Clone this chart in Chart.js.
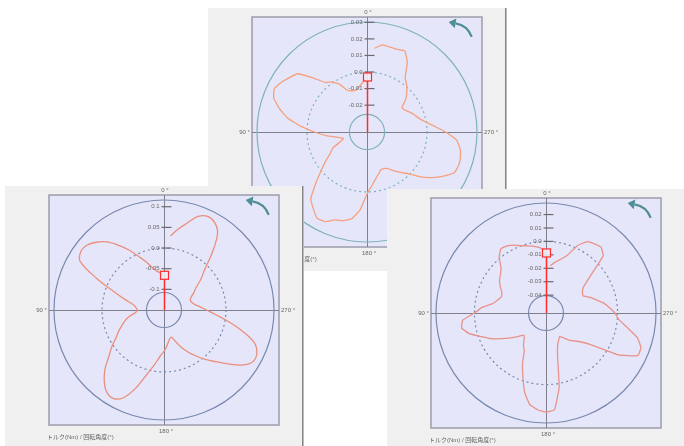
<!DOCTYPE html>
<html>
<head>
<meta charset="utf-8">
<script src="https://cdn.jsdelivr.net/npm/chart.js@4.4.1/dist/chart.umd.min.js"></script>
<style>
  html, body { margin: 0; padding: 0; background: #fff; width: 684px; height: 446px; overflow: hidden; }
  canvas { position: absolute; }
  #topChart { left: 208px; top: 8px; }
  #leftChart { left: 5px; top: 186px; }
  #rightChart { left: 387px; top: 189px; }
</style>
</head>
<body>
<canvas id="topChart" width="300" height="263"></canvas>
<canvas id="leftChart" width="300" height="260"></canvas>
<canvas id="rightChart" width="300" height="257"></canvas>
<script>
'use strict';
// rotation angle (deg, counter-clockwise from top)
const angles = [0, 5, 10, 15, 20, 25, 30, 35, 40, 45, 50, 55, 60, 65, 70, 75, 80, 85,
  90, 95, 100, 105, 110, 115, 120, 125, 130, 135, 140, 145, 150, 155, 160, 165, 170, 175,
  180, 185, 190, 195, 200, 205, 210, 215, 220, 225, 230, 235, 240, 245, 250, 255, 260, 265,
  270, 275, 280, 285, 290, 295, 300, 305, 310, 315, 320, 325, 330, 335, 340, 345, 350, 355];

// torque (Nm) per angle
const topTorque = [-0.003, -0.0062, -0.0085, -0.0100, -0.0097, -0.0084, -0.0028, 0.0007, 0.0028, 0.0100,
  0.0185, 0.0210, 0.0236, 0.0256, 0.0237, 0.0185, 0.0125, 0.0040, -0.0045, -0.0115,
  -0.0180, -0.0215, -0.0190, -0.0135, -0.0107, -0.0058, -0.0002, 0.0075, 0.0165, 0.0203,
  0.0240, 0.0235, 0.0203, 0.0192, 0.0170, 0.0110, 0.0012, -0.0035, -0.0072, -0.0098,
  -0.0118, -0.0118, -0.0106, -0.0075, -0.0043, -0.0005, 0.0060, 0.0118, 0.0172, 0.0220,
  0.0227, 0.0222, 0.0208, 0.0180, 0.0113, 0.0045, -0.0005, -0.0038, -0.0058, -0.0078,
  -0.0097, -0.0105, -0.0058, -0.0022, 0.0010, 0.0040, 0.0125, 0.0178, 0.0169, 0.0169,
  0.0172, 0.0145];

const leftTorque = [-0.066, -0.060, -0.055, -0.045, -0.027, -0.008, 0.017, 0.041, 0.065, 0.082,
  0.094, 0.096, 0.084, 0.028, -0.022, -0.053, -0.074, -0.082, -0.085, -0.081,
  -0.066, -0.053, -0.042, -0.029, -0.016, 0.004, 0.024, 0.052, 0.075, 0.092,
  0.097, 0.085, 0.052, 0.012, -0.015, -0.037, -0.050, -0.064, -0.077, -0.082,
  -0.069, -0.050, -0.032, -0.014, 0.006, 0.027, 0.053, 0.082, 0.099, 0.098,
  0.083, 0.046, 0.007, -0.025, -0.047, -0.062, -0.074, -0.080, -0.082, -0.078,
  -0.067, -0.055, -0.033, -0.010, 0.032, 0.076, 0.095, 0.100, 0.091, 0.068,
  0.049, 0.030];

const rightTorque = [-0.0086, -0.0046, -0.0029, -0.0015, 0.0000, 0.0025, 0.0045, 0.0052, 0.0010, -0.0060,
  -0.0090, -0.0110, -0.0140, -0.0170, -0.0180, -0.0160, -0.0130, -0.0055, 0.0000, 0.0090,
  0.0105, 0.0060, -0.0020, -0.0080, -0.0150, -0.0210, -0.0260, -0.0300, -0.0280, -0.0240,
  -0.0210, -0.0120, -0.0030, 0.0080, 0.0160, 0.0190, 0.0205, 0.0190, 0.0030, -0.0200,
  -0.0280, -0.0310, -0.0330, -0.0310, -0.0270, -0.0240, -0.0200, -0.0120, 0.0090, 0.0220,
  0.0220, 0.0170, 0.0080, 0.0010, -0.0020, -0.0060, -0.0100, -0.0150, -0.0190, -0.0230,
  -0.0220, -0.0190, -0.0100, 0.0070, 0.0105, 0.0095, 0.0080, 0.0020, -0.0080, -0.0120,
  -0.0150, -0.0180];

// radial range: [center, inner circle, outer circle]
const topRange = [-0.0362, -0.0256, 0.0302];
const leftRange = [-0.150, -0.1076, 0.1163];
const rightRange = [-0.0533, -0.0403, 0.0286];

const topTicks = [0.03, 0.02, 0.01, 0.0, -0.01, -0.02];
const topTickLabels = ['0.03', '0.02', '0.01', '0.0', '-0.01', '-0.02'];
const leftTicks = [0.1, 0.05, 0.0, -0.05, -0.1];
const leftTickLabels = ['0.1', '0.05', '0.0', '-0.05', '-0.1'];
const rightTicks = [0.02, 0.01, 0.0, -0.01, -0.02, -0.03, -0.04];
const rightTickLabels = ['0.02', '0.01', '0.0', '-0.01', '-0.02', '-0.03', '-0.04'];

const degreeLabels = ['0 °', '90 °', '180 °', '270 °'];
const caption = 'トルク(Nm) / 回転角度(°)';

const FONT = '6px "Liberation Sans", "Noto Sans CJK JP", sans-serif';

const polarFrame = {
  id: 'polarFrame',
  afterDatasetUpdate(chart, args) {
    // the trace is open between 355 and 0 degrees
    const line = args.meta.dataset;
    line._fullLoop = false;
    delete line._segments;
    delete line._path;
  },
  beforeDraw(chart, args, opts) {
    const ctx = chart.ctx;
    const r = chart.scales.r;
    const cx = r.xCenter;
    const cy = r.yCenter;
    const half = 115;
    ctx.save();
    ctx.fillStyle = '#f0f0f0';
    ctx.fillRect(0, 0, 299, chart.height);
    ctx.fillStyle = '#858585';
    ctx.fillRect(297, 0, 1.5, chart.height);

    ctx.fillStyle = '#e6e6fa';
    ctx.fillRect(cx - half, cy - half, half * 2, half * 2);
    ctx.strokeStyle = '#9c9cab';
    ctx.lineWidth = 1.5;
    ctx.strokeRect(cx - half, cy - half, half * 2, half * 2);

    ctx.strokeStyle = '#80808a';
    ctx.lineWidth = 1;
    ctx.beginPath();
    ctx.moveTo(cx - half, cy + 0.5);
    ctx.lineTo(cx + half, cy + 0.5);
    ctx.moveTo(cx + 0.5, cy - half);
    ctx.lineTo(cx + 0.5, cy + half);
    ctx.stroke();

    ctx.font = FONT;
    ctx.fillStyle = '#666';
    ctx.textBaseline = 'middle';
    ctx.textAlign = 'center';
    ctx.fillText(degreeLabels[0], cx + 1, cy - half - 5);
    ctx.fillText(degreeLabels[2], cx + 2, cy + half + 6);
    ctx.textAlign = 'right';
    ctx.fillText(degreeLabels[1], cx - half - 2, cy);
    ctx.textAlign = 'left';
    ctx.fillText(degreeLabels[3], cx + half + 2, cy);
    ctx.fillText(caption, cx - half - 2, cy + half + 12);

    // rotation direction arrow
    ctx.strokeStyle = '#4f8e95';
    ctx.fillStyle = '#4f8e95';
    ctx.lineWidth = 2.2;
    const ax = cx + 85, ay = cy - 88, ar = 21;
    const a0 = -0.35, a1 = -1.4;
    ctx.beginPath();
    ctx.arc(ax, ay, ar, a0, a1, true);
    ctx.stroke();
    const ex = ax + ar * Math.cos(a1), ey = ay + ar * Math.sin(a1);
    const tx = Math.sin(a1), ty = -Math.cos(a1);
    ctx.beginPath();
    ctx.moveTo(ex + tx * 7, ey + ty * 7);
    ctx.lineTo(ex - ty * 5, ey + tx * 5);
    ctx.lineTo(ex + ty * 5, ey - tx * 5);
    ctx.closePath();
    ctx.fill();
    ctx.restore();
  },
  afterDatasetsDraw(chart, args, opts) {
    const ctx = chart.ctx;
    const r = chart.scales.r;
    const cx = r.xCenter + 0.5;
    const cy = r.yCenter;
    ctx.save();
    ctx.font = FONT;
    ctx.fillStyle = '#666';
    ctx.strokeStyle = '#6a6a70';
    ctx.lineWidth = 1.2;
    ctx.textAlign = 'right';
    ctx.textBaseline = 'middle';
    opts.ticks.forEach((v, i) => {
      const y = cy - r.getDistanceFromCenterForValue(v);
      ctx.beginPath();
      ctx.moveTo(cx - 3, y);
      ctx.lineTo(cx + 7, y);
      ctx.stroke();
      ctx.fillText(opts.tickLabels[i], cx - 5, y);
    });

    // current value marker
    const sy = cy - r.getDistanceFromCenterForValue(opts.marker);
    ctx.strokeStyle = '#ff2b2b';
    ctx.lineWidth = 1.5;
    ctx.beginPath();
    ctx.moveTo(cx, cy);
    ctx.lineTo(cx, sy + 4);
    ctx.stroke();
    ctx.fillStyle = 'rgba(236,236,246,0.9)';
    ctx.fillRect(cx - 4, sy - 4, 8, 8);
    ctx.lineWidth = 1.2;
    ctx.strokeRect(cx - 4, sy - 4, 8, 8);
    ctx.restore();
  }
};

function makeChart(id, torque, range, ticks, tickLabels, gridColor, lineColor, tension) {
  // chart goes clockwise, angles go counter-clockwise
  const labels = angles.slice().reverse();
  const data = torque.slice().reverse();
  const canvas = document.getElementById(id);
  return new Chart(canvas, {
    type: 'radar',
    data: {
      labels: labels,
      datasets: [{
        data: data,
        borderColor: lineColor,
        borderWidth: 1.3,
        pointRadius: 0,
        fill: false,
        tension: tension
      }]
    },
    options: {
      responsive: false,
      animation: false,
      devicePixelRatio: 1,
      layout: { padding: { left: 49, top: 14, right: 31, bottom: canvas.height - 234 } },
      plugins: {
        legend: { display: false },
        tooltip: { enabled: false },
        polarFrame: { ticks: ticks, tickLabels: tickLabels, marker: torque[0] }
      },
      scales: {
        r: {
          min: range[0],
          max: range[2],
          startAngle: 5,
          afterBuildTicks: (scale) => {
            scale.ticks = [{ value: range[1] }, { value: 0 }, { value: range[2] }];
          },
          ticks: { display: false },
          pointLabels: { display: false },
          angleLines: { display: false },
          grid: { circular: true, color: gridColor, lineWidth: 1.2 },
          border: { dash: (c) => (c.index === 1 ? [2, 3] : []) }
        }
      }
    },
    plugins: [polarFrame]
  });
}

makeChart('topChart', topTorque, topRange, topTicks, topTickLabels, '#7fb2bc', '#f5a07e', 0.1);
makeChart('leftChart', leftTorque, leftRange, leftTicks, leftTickLabels, '#7889ad', '#ea8f7c', 0.35);
makeChart('rightChart', rightTorque, rightRange, rightTicks, rightTickLabels, '#7889ad', '#e8928a', 0.1);
</script>
</body>
</html>
